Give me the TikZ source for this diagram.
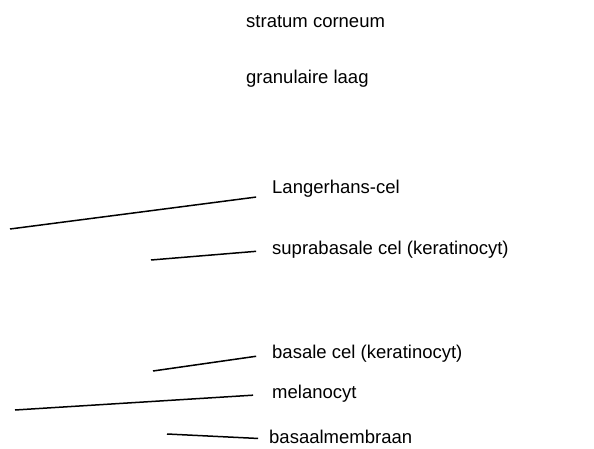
\documentclass[tikz,border=0pt]{standalone}
\usepackage{fontspec}
\setmainfont{Liberation Sans}

\begin{document}
\begin{tikzpicture}[x = 1pt, y = -1pt,
	layertext/.style = {anchor = west, inner sep = 0pt, text height = 13pt, text depth = 4pt, font = \fontsize{18.5}{18.5}\selectfont},
	leader/.style = {line width = 1.5pt, shorten > = 16pt}]
	\useasboundingbox (0,0) rectangle (594,449);
	\node[layertext] (corneum) at (246,23) {stratum corneum};
	\node[layertext] (granular) at (246,79) {granulaire laag};
	\node[layertext] (langerhans) at (272,189) {Langerhans-cel};
	\node[layertext] (suprabasal) at (272,250) {suprabasale cel (keratinocyt)};
	\node[layertext] (basal) at (272,354) {basale cel (keratinocyt)};
	\node[layertext] (melanocyte) at (272,394) {melanocyt};
	\node[layertext] (membrane) at (269,439) {basaalmembraan};
	\coordinate (langerhans-tip) at (10,229);
	\coordinate (suprabasal-tip) at (151,260);
	\coordinate (basal-tip) at (153,371);
	\coordinate (melanocyte-tip) at (15,410);
	\coordinate (membrane-tip) at (167,434);
	\draw[leader] (langerhans-tip) -- ([yshift = -6pt]langerhans.west);
	\draw[leader] (suprabasal-tip) -- (suprabasal.west);
	\draw[leader] (basal-tip) -- (basal.west);
	\draw[leader, shorten > = 19pt] (melanocyte-tip) -- (melanocyte.west);
	\draw[leader, shorten > = 11pt] (membrane-tip) -- (membrane.west);
\end{tikzpicture}
\end{document}
